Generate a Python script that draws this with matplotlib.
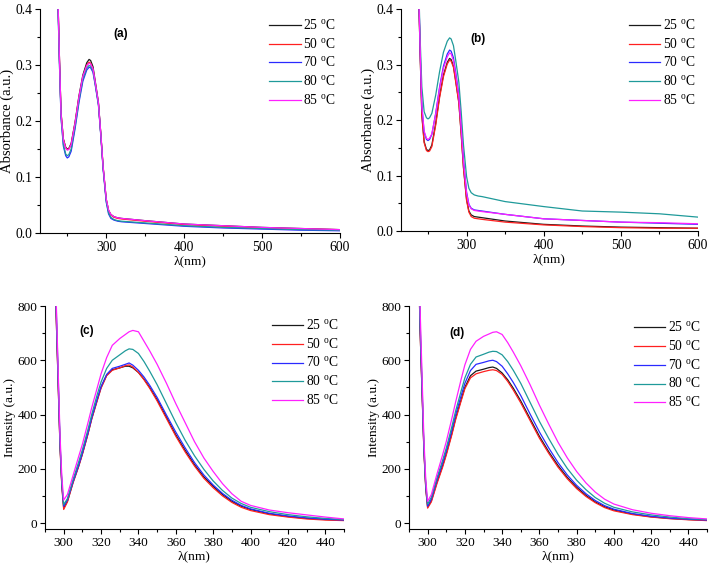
import matplotlib
matplotlib.use('Agg')
import matplotlib.pyplot as plt
from matplotlib.ticker import MultipleLocator, AutoMinorLocator, FormatStrFormatter

plt.rcParams['font.family'] = ['Liberation Serif', 'DejaVu Serif']
plt.rcParams['mathtext.fontset'] = 'custom'
plt.rcParams['mathtext.rm'] = 'Liberation Serif'

temps = ['25', '50', '70', '80', '85']
colors = ['#1a1a1a', '#ff2020', '#2a2aff', '#1f9a9a', '#ff20ff']

# UV absorbance, wavelength grid (nm)
wl_uv = [236, 238, 240, 242, 245, 248, 250, 252, 255, 260, 265, 270, 275, 278, 280, 283,
         286, 290, 293, 296, 300, 303, 306, 310, 315, 320, 350, 400, 450, 500, 550, 600]

a_25 = [0.60, 0.42, 0.31, 0.215, 0.168, 0.153, 0.150, 0.151, 0.160, 0.198, 0.245, 0.282, 0.304, 0.310, 0.308, 0.297,
        0.270, 0.233, 0.178, 0.118, 0.060, 0.040, 0.033, 0.029, 0.027, 0.026, 0.022, 0.016, 0.013, 0.010, 0.008, 0.006]
a_50 = [0.60, 0.42, 0.31, 0.214, 0.167, 0.152, 0.149, 0.150, 0.158, 0.196, 0.242, 0.278, 0.300, 0.305, 0.303, 0.293,
        0.267, 0.231, 0.177, 0.118, 0.060, 0.040, 0.032, 0.028, 0.026, 0.025, 0.021, 0.015, 0.012, 0.009, 0.007, 0.006]
a_70 = [0.60, 0.41, 0.30, 0.205, 0.155, 0.138, 0.134, 0.136, 0.146, 0.186, 0.233, 0.271, 0.291, 0.296, 0.295, 0.287,
        0.263, 0.228, 0.174, 0.114, 0.055, 0.034, 0.026, 0.023, 0.021, 0.020, 0.017, 0.012, 0.009, 0.007, 0.005, 0.004]
a_80 = [0.60, 0.41, 0.30, 0.207, 0.158, 0.141, 0.138, 0.140, 0.150, 0.190, 0.237, 0.275, 0.295, 0.299, 0.298, 0.290,
        0.265, 0.230, 0.176, 0.116, 0.057, 0.036, 0.028, 0.024, 0.022, 0.021, 0.018, 0.013, 0.010, 0.008, 0.006, 0.005]
a_85 = [0.60, 0.42, 0.31, 0.213, 0.166, 0.151, 0.148, 0.149, 0.158, 0.196, 0.243, 0.280, 0.299, 0.303, 0.302, 0.293,
        0.268, 0.232, 0.178, 0.119, 0.061, 0.041, 0.033, 0.029, 0.027, 0.026, 0.022, 0.016, 0.013, 0.010, 0.008, 0.006]

b_25 = [0.60, 0.42, 0.31, 0.210, 0.161, 0.147, 0.145, 0.146, 0.155, 0.194, 0.243, 0.281, 0.304, 0.311, 0.309, 0.297,
        0.270, 0.232, 0.176, 0.115, 0.057, 0.036, 0.029, 0.026, 0.025, 0.024, 0.018, 0.012, 0.009, 0.007, 0.006, 0.005]
b_50 = [0.60, 0.42, 0.31, 0.208, 0.159, 0.145, 0.143, 0.144, 0.152, 0.191, 0.240, 0.278, 0.301, 0.308, 0.306, 0.295,
        0.268, 0.230, 0.174, 0.113, 0.055, 0.034, 0.026, 0.023, 0.022, 0.021, 0.016, 0.011, 0.008, 0.006, 0.005, 0.005]
b_70 = [0.60, 0.43, 0.32, 0.225, 0.178, 0.165, 0.163, 0.165, 0.174, 0.212, 0.259, 0.297, 0.319, 0.326, 0.324, 0.312,
        0.285, 0.245, 0.190, 0.128, 0.070, 0.048, 0.041, 0.038, 0.037, 0.036, 0.030, 0.022, 0.019, 0.016, 0.014, 0.012]
b_80 = [0.60, 0.44, 0.34, 0.260, 0.215, 0.204, 0.202, 0.204, 0.212, 0.245, 0.287, 0.322, 0.342, 0.348, 0.346, 0.334,
        0.307, 0.268, 0.215, 0.155, 0.098, 0.077, 0.069, 0.065, 0.063, 0.062, 0.053, 0.044, 0.036, 0.034, 0.031, 0.025]
b_85 = [0.60, 0.43, 0.32, 0.226, 0.180, 0.167, 0.165, 0.167, 0.175, 0.211, 0.257, 0.293, 0.314, 0.321, 0.319, 0.307,
        0.281, 0.242, 0.187, 0.126, 0.068, 0.047, 0.040, 0.037, 0.036, 0.035, 0.030, 0.022, 0.019, 0.016, 0.015, 0.013]

# fluorescence emission, wavelength grid (nm)
wl_fl = [292, 294, 296, 298, 299, 300, 302, 305, 308, 310, 313, 315, 318, 320, 323, 326, 330, 333, 335, 337,
         340, 343, 346, 350, 355, 360, 365, 370, 375, 380, 385, 390, 395, 400, 410, 420, 430, 440, 450]

c_25 = [2200, 1350, 760, 290, 140, 55, 80, 150, 210, 255, 330, 385, 455, 500, 545, 565, 572, 578, 578, 572,
        555, 530, 500, 455, 390, 325, 268, 215, 170, 135, 105, 80, 62, 50, 34, 24, 17, 13, 10]
c_50 = [2200, 1350, 760, 285, 135, 50, 78, 148, 208, 253, 328, 383, 452, 497, 543, 563, 572, 580, 583, 575,
        555, 528, 497, 450, 385, 320, 262, 210, 165, 130, 100, 76, 58, 46, 31, 22, 15, 11, 9]
c_70 = [2250, 1380, 780, 300, 145, 62, 85, 152, 212, 258, 332, 388, 458, 503, 548, 570, 578, 585, 590, 582,
        563, 538, 508, 463, 398, 335, 277, 223, 177, 140, 109, 84, 65, 52, 36, 26, 19, 14, 11]
c_80 = [2250, 1400, 800, 310, 150, 68, 90, 160, 225, 270, 345, 400, 475, 520, 570, 600, 620, 635, 642, 640,
        625, 595, 560, 510, 440, 370, 305, 248, 198, 155, 120, 92, 72, 58, 42, 31, 23, 17, 13]
c_85 = [2300, 1450, 820, 330, 170, 85, 105, 175, 245, 290, 370, 425, 500, 550, 610, 655, 680, 695, 705, 710,
        705, 670, 635, 585, 515, 440, 370, 300, 240, 190, 145, 108, 80, 65, 48, 38, 30, 22, 15]

d_25 = [2200, 1300, 700, 270, 130, 58, 82, 150, 210, 255, 330, 385, 455, 500, 543, 560, 567, 573, 575, 570,
        553, 528, 497, 450, 385, 320, 263, 212, 168, 132, 102, 78, 60, 48, 33, 23, 17, 13, 10]
d_50 = [2200, 1300, 700, 265, 125, 55, 78, 145, 205, 250, 325, 380, 450, 495, 535, 550, 558, 563, 565, 562,
        548, 522, 490, 443, 378, 313, 257, 206, 163, 127, 98, 75, 57, 45, 31, 22, 16, 12, 9]
d_70 = [2250, 1330, 720, 275, 135, 62, 88, 158, 220, 265, 342, 398, 470, 515, 562, 585, 592, 598, 600, 595,
        578, 550, 518, 470, 402, 336, 277, 223, 177, 139, 108, 83, 64, 51, 35, 25, 18, 14, 11]
d_80 = [2250, 1350, 740, 285, 142, 70, 95, 166, 230, 276, 355, 412, 487, 535, 585, 612, 622, 630, 633, 632,
        620, 595, 563, 515, 445, 375, 312, 253, 201, 158, 123, 94, 73, 58, 41, 30, 22, 16, 13]
d_85 = [2300, 1400, 780, 310, 160, 80, 105, 180, 250, 300, 385, 445, 530, 583, 640, 670, 688, 697, 703, 705,
        695, 665, 630, 580, 510, 435, 365, 298, 240, 190, 148, 114, 88, 70, 49, 36, 27, 20, 15]

W, H = 709, 568
fig = plt.figure(figsize=(W / 100, H / 100), dpi=100)


def box(l, r, t, b):
    return [l / W, 1 - b / H, (r - l) / W, (b - t) / H]


panels = [
    (box(40, 340, 9, 233), wl_uv, [a_25, a_50, a_70, a_80, a_85], '(a)', (0.27, 0.89),
     (215, 600), (0, 0.4), 100, 0.1, 'Absorbance (a.u.)', 10.5, 9.8, (0.755, 0.972)),
    (box(401, 698, 9, 231), wl_uv, [b_25, b_50, b_70, b_80, b_85], '(b)', (0.26, 0.865),
     (215, 600), (0, 0.4), 100, 0.1, 'Absorbance (a.u.)', 10.5, 9.8, (0.758, 0.972)),
    (box(45, 344, 306, 529), wl_fl, [c_25, c_50, c_70, c_80, c_85], '(c)', (0.14, 0.89),
     (290, 450), (-22, 800), 20, 200, 'Intensity (a.u.)', 9.6, 9.5, (0.75, 0.958)),
    (box(409, 707, 306, 529), wl_fl, [d_25, d_50, d_70, d_80, d_85], '(d)', (0.16, 0.88),
     (290, 450), (-22, 800), 20, 200, 'Intensity (a.u.)', 9.6, 9.5, (0.745, 0.948)),
]

for rect, x, series, tag, tagpos, xl, yl, xmaj, ymaj, ylab, ylab_fs, tick_fs, legpos in panels:
    ax = fig.add_axes(rect)
    for vals, t, c in zip(series, temps, colors):
        ax.plot(x, vals, color=c, lw=0.9, label=t + r' $^{\mathrm{o}}$C')
    ax.set_xlim(*xl)
    ax.set_ylim(*yl)
    ax.xaxis.set_major_locator(MultipleLocator(xmaj))
    ax.yaxis.set_major_locator(MultipleLocator(ymaj))
    ax.xaxis.set_minor_locator(AutoMinorLocator(2))
    ax.yaxis.set_minor_locator(AutoMinorLocator(2))
    ax.spines['top'].set_visible(False)
    ax.spines['right'].set_visible(False)
    ax.tick_params(which='major', direction='out', length=3.5, width=0.8, labelsize=tick_fs, pad=2)
    ax.tick_params(which='minor', direction='out', length=2, width=0.8)
    if tag in ('(a)', '(b)'):
        ax.yaxis.set_major_formatter(FormatStrFormatter('%.1f'))
    ax.set_xlabel('λ(nm)', fontsize=9.7, labelpad=1)
    ax.set_ylabel(ylab, fontsize=ylab_fs, labelpad=1)
    ax.text(tagpos[0], tagpos[1], tag, transform=ax.transAxes, fontsize=8.5,
            fontweight='bold', family='Liberation Sans', ha='center', va='center')
    ax.legend(loc='upper left', bbox_to_anchor=legpos, frameon=False, fontsize=9.8,
              handlelength=2.3, handletextpad=0.2, labelspacing=0.3, borderaxespad=0,
              borderpad=0.2)

fig.savefig('out.png', dpi=100)
